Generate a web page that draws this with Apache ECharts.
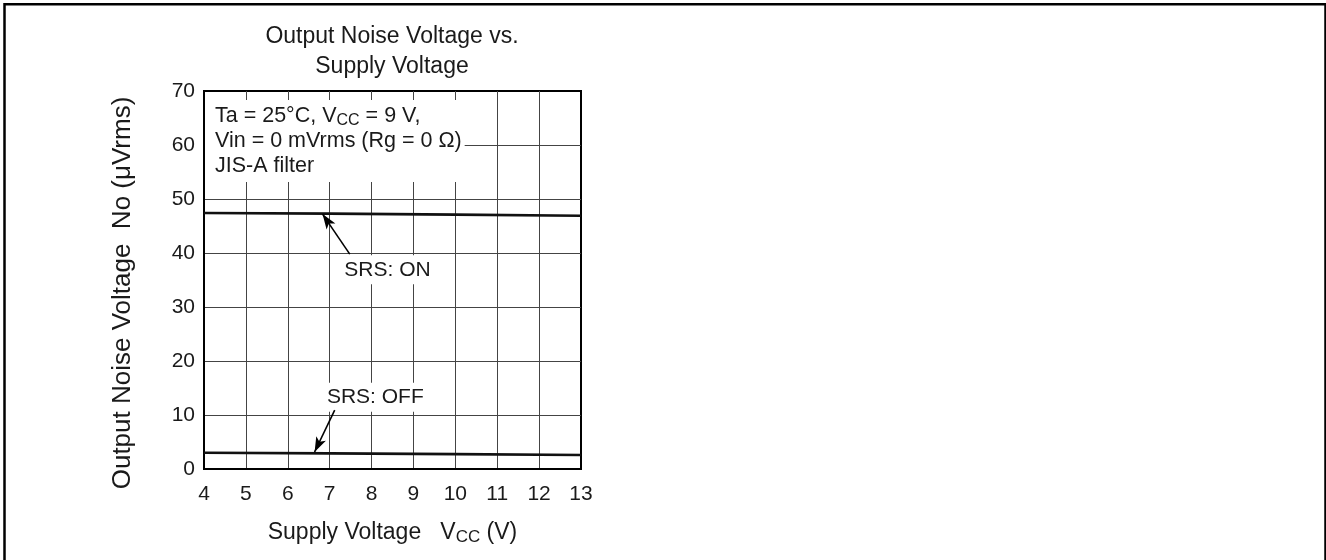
<!DOCTYPE html>
<html>
<head>
<meta charset="utf-8">
<script src="https://cdn.jsdelivr.net/npm/echarts@6/dist/echarts.min.js"></script>
<style>
  html, body { margin: 0; padding: 0; background: #fff; }
  #chart { width: 1326px; height: 560px; }
</style>
</head>
<body>
<div id="chart"></div>
<script>
// values
var supplyV  = [4, 7, 10, 13];
var noiseOn  = [47.4, 47.3, 47.1, 46.9];
var noiseOff = [3.0, 2.9, 2.75, 2.6];

var xMin = 4, xMax = 13, xStep = 1;
var yMin = 0, yMax = 70, yStep = 10;

// callout text spots and arrow ends, in data units
var onLabel   = [8.38, 36.9];
var offLabel  = [8.09, 13.3];
var onArrow   = [[7.48, 39.8], [6.83, 47.2]];
var offArrow  = [[7.12, 10.9], [6.64, 3.15]];

var FONT = 'Liberation Sans, Arial, Helvetica, sans-serif';
var INK = '#1a1a1a';

function pairs(xs, ys) {
	var out = [];
	for (var i = 0; i < xs.length; i++) out.push([xs[i], ys[i]]);
	return out;
}

var chart = echarts.init(document.getElementById('chart'));

var subStyle = { fontSize: 16, fontFamily: FONT, color: INK, padding: [8, 0, 0, 0] };

var option = {
	animation: false,
	grid: {
		left: 204, top: 91, width: 377, height: 378,
		show: true, borderColor: '#000', borderWidth: 2,
		backgroundColor: 'transparent'
	},
	xAxis: {
		type: 'value', min: xMin, max: xMax, interval: xStep,
		name: 'Supply Voltage   V{sub|CC} (V)',
		nameLocation: 'middle', nameGap: 51,
		nameTextStyle: {
			fontSize: 23, fontFamily: FONT, color: INK,
			rich: { sub: { fontSize: 17, fontFamily: FONT, color: INK, padding: [9, 0, 0, 0] } }
		},
		axisLine: { show: true, lineStyle: { color: '#000', width: 2 } },
		axisTick: { show: false },
		axisLabel: { fontSize: 21, fontFamily: FONT, color: INK, margin: 15 },
		splitLine: { show: true, showMinLine: false, showMaxLine: false, lineStyle: { color: '#444', width: 1 } }
	},
	yAxis: {
		type: 'value', min: yMin, max: yMax, interval: yStep,
		name: 'Output Noise Voltage  No (\u03bcVrms)',
		nameLocation: 'middle', nameGap: 68,
		nameTextStyle: { fontSize: 26, fontFamily: FONT, color: INK, padding: [0, 26, 0, 0] },
		axisLine: { show: true, lineStyle: { color: '#000', width: 2 } },
		axisTick: { show: false },
		axisLabel: { fontSize: 21, fontFamily: FONT, color: INK, margin: 9 },
		splitLine: { show: true, showMinLine: false, showMaxLine: false, lineStyle: { color: '#444', width: 1 } }
	},
	series: [
		{
			name: 'SRS: ON', type: 'line', data: pairs(supplyV, noiseOn),
			showSymbol: false, lineStyle: { color: '#111', width: 2.6 }, z: 3
		},
		{
			name: 'SRS: OFF', type: 'line', data: pairs(supplyV, noiseOff),
			showSymbol: false, lineStyle: { color: '#111', width: 2.6 }, z: 3
		},
		{
			// callout texts + arrows
			type: 'scatter', symbolSize: 0, z: 4, silent: true,
			itemStyle: { opacity: 1 },
			data: [
				{ value: onLabel, name: 'SRS: ON' },
				{ value: offLabel, name: 'SRS: OFF' }
			],
			label: {
				show: true, position: 'inside', formatter: '{b}',
				fontSize: 21, fontFamily: FONT, color: INK,
				backgroundColor: '#fff', padding: [4, 2]
			},
			markLine: {
				silent: true, symbol: ['none', 'arrow'], symbolSize: [8, 15],
				label: { show: false },
				lineStyle: { color: '#000', width: 1.6, type: 'solid', opacity: 1 },
				data: [
					[{ coord: onArrow[0] }, { coord: onArrow[1] }],
					[{ coord: offArrow[0] }, { coord: offArrow[1] }]
				]
			}
		}
	],
	graphic: [
		{
			// page frame (bottom edge falls outside the picture)
			type: 'rect', shape: { x: 4.5, y: 4.3, width: 1321, height: 700 },
			style: { fill: 'none', stroke: '#000', lineWidth: 2.5 }, z: 10, silent: true
		},
		{
			type: 'text', x: 392, y: 22, z: 10,
			style: {
				text: 'Output Noise Voltage vs.\nSupply Voltage',
				align: 'center', fontSize: 23, lineHeight: 30,
				fontFamily: FONT, fill: INK
			}
		},
		{
			// conditions box, white so the grid stops behind it
			type: 'text', x: 205, y: 100, z: 10,
			style: {
				text: 'Ta = 25\u00b0C, V{sub|CC} = 9 V,\nVin = 0 mVrms (Rg = 0 \u03a9)\nJIS-A filter',
				fontSize: 21.5, lineHeight: 25, fontFamily: FONT, fill: INK,
				backgroundColor: '#fff', padding: [4, 3, 3, 10],
				rich: { sub: subStyle }
			}
		}
	]
};

chart.setOption(option);
</script>
</body>
</html>
